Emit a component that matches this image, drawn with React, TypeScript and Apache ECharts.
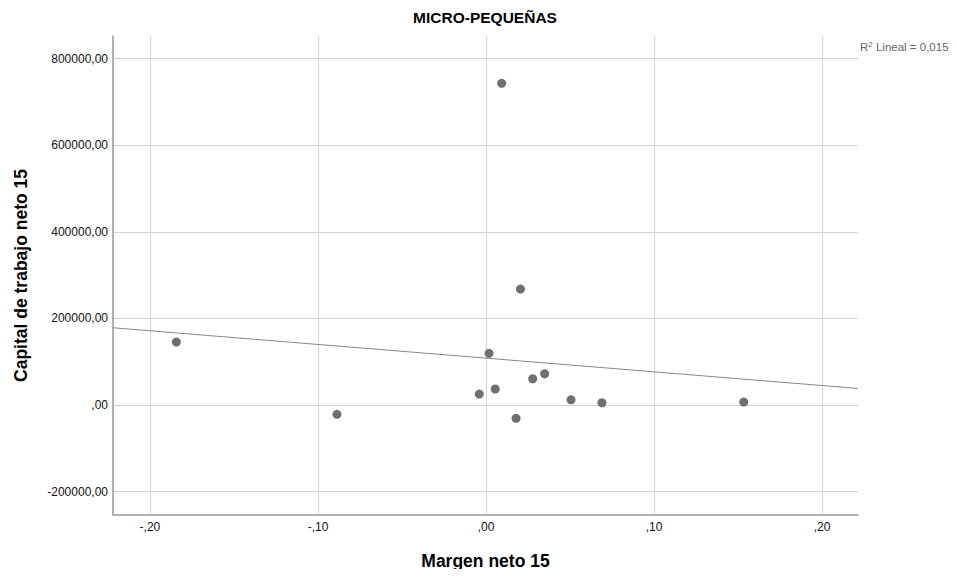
import React, { useEffect, useRef } from "react";
import * as echarts from "echarts";

const chartTitle = "MICRO-PEQUEÑAS";
const xAxisName = "Margen neto 15";
const yAxisName = "Capital de trabajo neto 15";
const r2Label = "0,015";

// Margen neto 15 (x) and Capital de trabajo neto 15 (y)
const margenNeto = [
  -0.1843, -0.0887, 0.0093, 0.0205, 0.0018, -0.004, 0.0055, 0.0179, 0.0278,
  0.0349, 0.0506, 0.069, 0.1534,
];
const capitalTrabajo = [
  145500, -21500, 743000, 267900, 119400, 25400, 37000, -30700, 60700, 72300,
  12200, 5300, 6900,
];

// Fitted linear line (read at the plot edges)
const fitX = [-0.222, 0.2214];
const fitY = [178500, 38300];

const xTicks = [-0.2, -0.1, 0, 0.1, 0.2];
const yTicks = [-200000, 0, 200000, 400000, 600000, 800000];
const xRange = [-0.222, 0.2214];
const yRange = [-254000, 852400];

function spssFormat(v: number): string {
  let s = Math.abs(v).toFixed(2).replace(".", ",");
  if (s.startsWith("0,")) s = s.slice(1);
  return (v < -1e-12 ? "-" : "") + s;
}

export default function App() {
  const ref = useRef<HTMLDivElement>(null);
  useEffect(() => {
    if (!ref.current) return;
    const chart = echarts.init(ref.current, undefined, { renderer: "svg" });
    const font = "Arial, 'Liberation Sans', sans-serif";
    chart.setOption({
      animation: false,
      backgroundColor: "#ffffff",
      title: {
        text: chartTitle,
        left: 480,
        textAlign: "center",
        top: 4,
        textStyle: { fontFamily: font, fontSize: 15.5, fontWeight: "bold", color: "#000" },
      },
      grid: { left: 113, right: 99, top: 36, bottom: 62, containLabel: false },
      xAxis: {
        type: "value",
        min: xRange[0],
        max: xRange[1],
        name: xAxisName,
        nameLocation: "middle",
        nameGap: 37,
        nameTextStyle: { fontFamily: font, fontSize: 17.5, fontWeight: "bold", color: "#000" },
        axisLine: { show: true, onZero: false, lineStyle: { color: "#999", width: 1.5 } },
        axisTick: { show: false, customValues: xTicks },
        axisLabel: {
          customValues: xTicks,
          formatter: (v: number) => spssFormat(v),
          fontFamily: font,
          fontSize: 12,
          color: "#111",
          margin: 6,
        },
        splitLine: { show: true, lineStyle: { color: "#d3d3d3", width: 1 } },
      },
      yAxis: {
        type: "value",
        min: yRange[0],
        max: yRange[1],
        name: yAxisName,
        nameLocation: "middle",
        nameGap: 83,
        nameTextStyle: { fontFamily: font, fontSize: 17.5, fontWeight: "bold", color: "#000" },
        axisLine: { show: true, onZero: false, lineStyle: { color: "#999", width: 1.5 } },
        axisTick: { show: false, customValues: yTicks },
        axisLabel: {
          customValues: yTicks,
          formatter: (v: number) => spssFormat(v),
          fontFamily: font,
          fontSize: 12,
          color: "#111",
          margin: 5,
        },
        splitLine: { show: true, lineStyle: { color: "#d3d3d3", width: 1 } },
      },
      graphic: [
        {
          type: "text",
          left: 860,
          top: 40,
          style: {
            text: "{n|R}{s|2}{n| Lineal = " + r2Label + "}",
            rich: {
              n: { fontFamily: font, fontSize: 11.5, fill: "#666", verticalAlign: "bottom" },
              s: { fontFamily: font, fontSize: 8, fill: "#666", verticalAlign: "top", padding: [0, 0, 5, 0] },
            },
          },
        },
      ],
      series: [
        {
          type: "line",
          data: fitX.map((x, i) => [x, fitY[i]]),
          symbol: "none",
          lineStyle: { color: "#888", width: 1 },
          silent: true,
          z: 2,
        },
        {
          type: "scatter",
          data: margenNeto.map((x, i) => [x, capitalTrabajo[i]]),
          symbolSize: 9,
          itemStyle: { color: "#6f6f6f", opacity: 1 },
          z: 3,
        },
      ],
    });
    return () => chart.dispose();
  }, []);
  return <div ref={ref} style={{ width: 957, height: 577, margin: -8 }} />;
}
